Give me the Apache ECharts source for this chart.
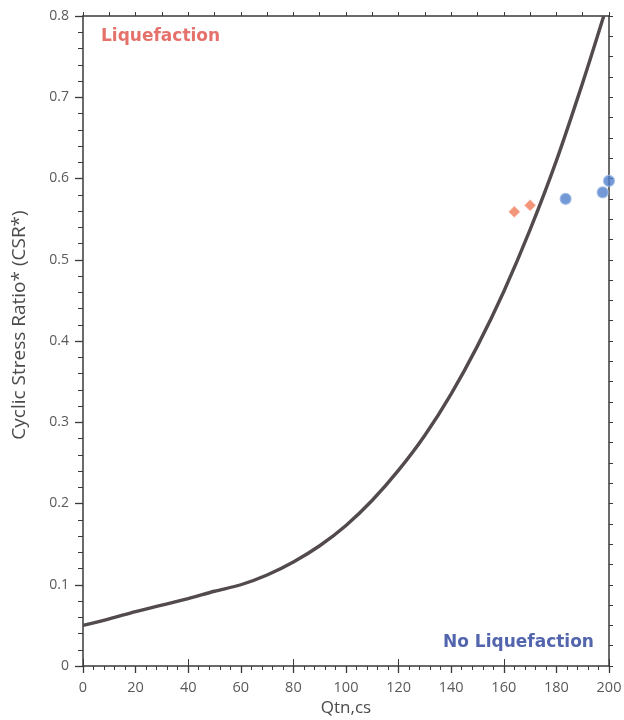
<!DOCTYPE html>
<html><head><meta charset="utf-8">
<script src="https://cdn.jsdelivr.net/npm/echarts@6/dist/echarts.min.js"></script>
<style>html,body{margin:0;padding:0;background:#fff}#c{width:624px;height:720px}</style>
</head><body><div id="c"></div>
<script>
// Boundary curve (Qtn,cs vs CSR*)
const curveQ   = [0, 10, 20, 30, 40, 50, 60, 70, 80, 90, 100, 110, 120, 130, 140, 150, 160, 170, 180, 190, 198];
const curveCSR = [0.050, 0.058, 0.067, 0.075, 0.083, 0.092, 0.100, 0.112, 0.128, 0.148, 0.173, 0.204, 0.241, 0.284, 0.335, 0.394, 0.461, 0.537, 0.622, 0.718, 0.800];
// Liquefaction points (orange diamonds)
const liqQ   = [164.0, 170.0];
const liqCSR = [0.559, 0.567];
// No liquefaction points (blue circles)
const noLiqQ   = [183.5, 197.6, 200.0];
const noLiqCSR = [0.575, 0.583, 0.597];
const xTicks = [0, 20, 40, 60, 80, 100, 120, 140, 160, 180, 200];
const yTicks = [0, 0.1, 0.2, 0.3, 0.4, 0.5, 0.6, 0.7, 0.8];

const font = 'Open Sans';
const boldFont = 'DejaVu Sans';
const axisCol = '#3a3a3a';
const curve = curveQ.map((q, i) => [q, curveCSR[i]]);
const liq = liqQ.map((q, i) => [q, liqCSR[i]]);
const noLiq = noLiqQ.map((q, i) => [q, noLiqCSR[i]]);

const chart = echarts.init(document.getElementById('c'), null, {renderer: 'canvas'});
chart.setOption({
  animation: false,
  backgroundColor: '#fff',
  grid: {left: 83, right: 15, top: 16, bottom: 54, containLabel: false, outerBoundsMode: 'none'},
  xAxis: [
    {
      type: 'value', min: xTicks[0], max: xTicks[xTicks.length - 1], interval: 20, position: 'bottom',
      name: 'Qtn,cs', nameLocation: 'middle', nameGap: 31,
      nameTextStyle: {fontFamily: font, fontSize: 17, color: '#4a4a4a'},
      axisLine: {show: true, onZero: false, lineStyle: {color: axisCol, width: 1.5}},
      axisTick: {show: true, length: 7, lineStyle: {color: axisCol, width: 1.3}},
      minorTick: {show: true, splitNumber: 5, length: 4, lineStyle: {color: axisCol, width: 1}},
      axisLabel: {fontFamily: font, fontSize: 14.5, color: '#5a5a5a', margin: 14},
      splitLine: {show: false}
    },
    {
      type: 'value', min: 0, max: 200, interval: 10, position: 'top',
      axisLine: {show: true, onZero: false, lineStyle: {color: axisCol, width: 1.5}},
      axisTick: {show: true, length: 4, lineStyle: {color: axisCol, width: 1}},
      axisLabel: {show: false}, splitLine: {show: false}
    },
    {
      type: 'value', min: 0, max: 200, interval: 40, position: 'top',
      axisLine: {show: false},
      axisTick: {show: true, length: 7, lineStyle: {color: axisCol, width: 1}},
      axisLabel: {show: false}, splitLine: {show: false}
    }
  ],
  yAxis: [
    {
      type: 'value', min: yTicks[0], max: yTicks[yTicks.length - 1], interval: 0.1, position: 'left',
      name: 'Cyclic Stress Ratio* (CSR*)', nameLocation: 'middle', nameGap: 54, nameRotate: 90,
      nameTextStyle: {fontFamily: font, fontSize: 19, color: '#4a4a4a', padding: [0, 0, 0, 32]},
      axisLine: {show: true, onZero: false, lineStyle: {color: axisCol, width: 1.5}},
      axisTick: {show: true, length: 8, lineStyle: {color: axisCol, width: 1.3}},
      minorTick: {show: true, splitNumber: 5, length: 5, lineStyle: {color: axisCol, width: 1}},
      axisLabel: {fontFamily: font, fontSize: 14, color: '#5a5a5a', margin: 14,
        formatter: v => (v === 0 ? '0' : v.toFixed(1))},
      splitLine: {show: false}
    },
    {
      type: 'value', min: 0, max: 0.8, interval: 0.025, position: 'right',
      axisLine: {show: true, onZero: false, lineStyle: {color: axisCol, width: 1.5}},
      axisTick: {show: true, length: 4, lineStyle: {color: axisCol, width: 1}},
      axisLabel: {show: false}, splitLine: {show: false}
    }
  ],
  series: [
    {
      type: 'line', data: curve, smooth: 0.3, showSymbol: false, symbol: 'none',
      lineStyle: {color: '#524a4c', width: 3.4}, z: 3
    },
    {
      type: 'scatter', data: liq, symbol: 'diamond', symbolSize: 11,
      itemStyle: {color: '#ef7b57', borderColor: '#f6b49c', borderWidth: 1}, z: 4
    },
    {
      type: 'scatter', data: noLiq, symbol: 'circle', symbolSize: 11,
      itemStyle: {color: '#4f7fcc', borderColor: '#9bb8e6', borderWidth: 1.2}, z: 4
    }
  ],
  graphic: [
    {type: 'text', left: 101, top: 28,
      style: {text: 'Liquefaction', fontFamily: boldFont, fontWeight: 'bold', fontSize: 17, fill: '#e5716b'}},
    {type: 'text', left: 443, top: 634,
      style: {text: 'No Liquefaction', fontFamily: boldFont, fontWeight: 'bold', fontSize: 17, fill: '#5265ad'}}
  ]
});
</script></body></html>
